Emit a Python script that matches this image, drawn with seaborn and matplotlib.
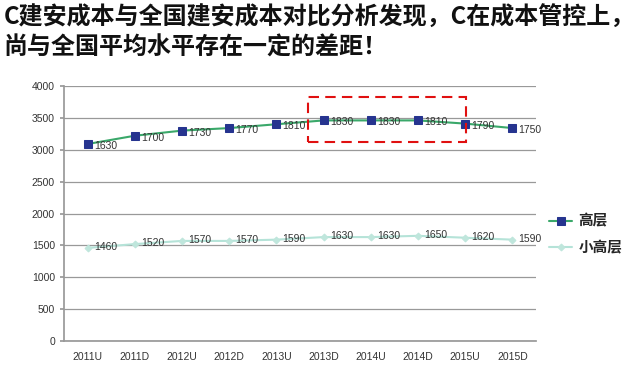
import seaborn as sns
import matplotlib.pyplot as plt
import matplotlib.patches as patches
import numpy as np
import pandas as pd

# data (stacked line chart: 高层 plotted on top of 小高层)
periods = ['2011U', '2011D', '2012U', '2012D', '2013U',
           '2013D', '2014U', '2014D', '2015U', '2015D']
xiao_gaoceng = [1460, 1520, 1570, 1570, 1590, 1630, 1630, 1650, 1620, 1590]
gaoceng = [1630, 1700, 1730, 1770, 1810, 1830, 1830, 1810, 1790, 1750]

df = pd.DataFrame({'period': periods, 'small': xiao_gaoceng, 'high': gaoceng})
df['high_stack'] = df['small'] + df['high']
df['pos'] = np.arange(len(df))

sns.set_theme(style='white')
plt.rcParams['font.family'] = ['Liberation Sans', 'Noto Sans CJK SC', 'DejaVu Sans']
cjk = ['Noto Sans CJK SC', 'DejaVu Sans']

fig = plt.figure(figsize=(6.4, 3.8), dpi=100)
ax = fig.add_axes([0.1, 0.1026, 0.7375, 0.6711])

sns.lineplot(data=df, x='pos', y='high_stack', ax=ax, color='#3aa86a', lw=1.5,
             marker='s', markersize=5.5, markerfacecolor='#26348f',
             markeredgecolor='#26348f', label='高层')
sns.lineplot(data=df, x='pos', y='small', ax=ax, color='#b5e3d8', lw=1.5,
             marker='D', markersize=3.5, markerfacecolor='#bfe6dc',
             markeredgecolor='#bfe6dc', label='小高层')

for _, r in df.iterrows():
    ax.text(r['pos'] + 0.13, r['high_stack'] - 30, f"{r['high']}", fontsize=7.5,
            color='#333333', ha='left', va='center')
    ax.text(r['pos'] + 0.13, r['small'] + 10, f"{r['small']}", fontsize=7.5,
            color='#333333', ha='left', va='center')

# highlight box
ax.add_patch(patches.Rectangle((4.67, 3120), 3.35, 710, fill=False,
                               edgecolor='#e01010', lw=1.5, ls=(0, (5, 3)),
                               zorder=5))

ax.set_xlim(-0.5, len(periods) - 0.5)
ax.set_ylim(0, 4000)
ax.set_yticks(range(0, 4001, 500))
ax.set_xticks(df['pos'])
ax.set_xticklabels(periods)
ax.set_xticks(np.arange(-0.5, len(periods), 1), minor=True)
ax.tick_params(axis='x', which='major', length=0, labelsize=7.5,
               labelcolor='#333333', pad=8)
ax.tick_params(axis='x', which='minor', length=3, color='#999999')
ax.tick_params(axis='y', length=3, color='#999999', labelsize=7.5,
               labelcolor='#333333', left=True)
ax.yaxis.grid(True, color='#999999', lw=0.9)
ax.set_axisbelow(True)
for s in ['top', 'right']:
    ax.spines[s].set_visible(False)
for s in ['left', 'bottom']:
    ax.spines[s].set_color('#999999')
ax.set_xlabel('')
ax.set_ylabel('')

ax.legend(loc='center left', bbox_to_anchor=(1.0, 0.42), frameon=False,
          prop={'family': cjk, 'weight': 'bold', 'size': 10.5},
          handlelength=1.6, handletextpad=0.4, labelspacing=0.7)

fig.text(0.006, 0.985, 'C建安成本与全国建安成本对比分析发现，C在成本管控上，\n尚与全国平均水平存在一定的差距！',
         fontsize=17.3, fontweight='bold', va='top', ha='left', family=cjk,
         linespacing=1.3, color='#111111')

fig.savefig('out.png', dpi=100)
